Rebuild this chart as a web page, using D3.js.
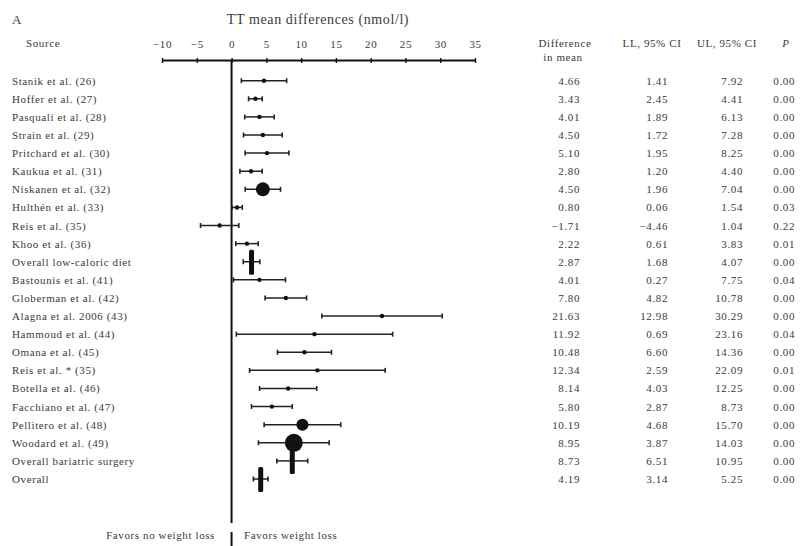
<!DOCTYPE html>
<html>
<head>
<meta charset="utf-8">
<script src="https://cdn.jsdelivr.net/npm/d3@7"></script>
<style>
  html, body { margin: 0; padding: 0; background: #fff; }
  svg text { font-family: "Liberation Serif", "DejaVu Serif", serif; fill: #3a3a3a; letter-spacing: 0.6px; }
</style>
</head>
<body>
<svg id="chart" width="800" height="546"></svg>
<script>
// Study rows of the forest plot (TT mean differences, nmol/l)
const sources = [
  "Stanik et al. (26)", "Hoffer et al. (27)", "Pasquali et al. (28)", "Strain et al. (29)",
  "Pritchard et al. (30)", "Kaukua et al. (31)", "Niskanen et al. (32)", "Hulthén et al. (33)",
  "Reis et al. (35)", "Khoo et al. (36)", "Overall low-caloric diet",
  "Bastounis et al. (41)", "Globerman et al. (42)", "Alagna et al. 2006 (43)", "Hammoud et al. (44)",
  "Omana et al. (45)", "Reis et al. * (35)", "Botella et al. (46)", "Facchiano et al. (47)",
  "Pellitero et al. (48)", "Woodard et al. (49)", "Overall bariatric surgery", "Overall"
];
const meanDiff = [4.66, 3.43, 4.01, 4.50, 5.10, 2.80, 4.50, 0.80, -1.71, 2.22, 2.87,
  4.01, 7.80, 21.63, 11.92, 10.48, 12.34, 8.14, 5.80, 10.19, 8.95, 8.73, 4.19];
const lowerCI = [1.41, 2.45, 1.89, 1.72, 1.95, 1.20, 1.96, 0.06, -4.46, 0.61, 1.68,
  0.27, 4.82, 12.98, 0.69, 6.60, 2.59, 4.03, 2.87, 4.68, 3.87, 6.51, 3.14];
const upperCI = [7.92, 4.41, 6.13, 7.28, 8.25, 4.40, 7.04, 1.54, 1.04, 3.83, 4.07,
  7.75, 10.78, 30.29, 23.16, 14.36, 22.09, 12.25, 8.73, 15.70, 14.03, 10.95, 5.25];
const pValues = ["0.00", "0.00", "0.00", "0.00", "0.00", "0.00", "0.00", "0.03", "0.22", "0.01", "0.00",
  "0.04", "0.00", "0.00", "0.04", "0.00", "0.01", "0.00", "0.00", "0.00", "0.00", "0.00", "0.00"];
// Relative study weight (drives marker area); 0 marks a pooled estimate
const studyWeight = [1, 1, 1, 1, 1, 1, 12, 1, 1, 1, 0,
  1, 1, 1, 1, 1, 1, 1, 1, 9, 20, 0, 0];
const axisTicks = [-10, -5, 0, 5, 10, 15, 20, 25, 30, 35];

const svg = d3.select("#chart");
const x = d3.scaleLinear().domain([-10, 35]).range([162, 475]);
const y = d3.scaleLinear().domain([0, sources.length - 1]).range([80.7, 479]);
const r = d3.scaleSqrt().domain([0, 20]).range([0, 9]);
const fmt = d3.format(".2f");
const fs = 11;

// Panel letter and title
svg.append("text").attr("x", 12).attr("y", 24).attr("font-size", 13).text("A");
svg.append("text").attr("x", 318).attr("y", 24).attr("font-size", 14)
  .attr("text-anchor", "middle").text("TT mean differences (nmol/l)");
svg.append("text").attr("x", 26).attr("y", 47).attr("font-size", fs).text("Source");

// Top axis
const axisY = 60;
const axis = d3.axisTop(x).tickValues(axisTicks).tickSize(0).tickPadding(12);
const gAxis = svg.append("g").attr("transform", `translate(0,${axisY})`).call(axis);
gAxis.select(".domain").attr("stroke", "#111").attr("stroke-width", 2);
gAxis.selectAll(".tick text").attr("font-size", fs)
  .style("font-family", "Liberation Serif, serif").attr("fill", "#3a3a3a");
gAxis.selectAll(".tick").append("line")
  .attr("y1", -2).attr("y2", 3).attr("stroke", "#111").attr("stroke-width", 1.4);

// Line of no effect
svg.append("line").attr("x1", x(0)).attr("x2", x(0)).attr("y1", axisY).attr("y2", 523)
  .attr("stroke", "#111").attr("stroke-width", 2);

// Column headers
const colDiff = 580, colLL = 668, colUL = 743, colP = 795;
svg.append("text").attr("x", 565).attr("y", 47).attr("font-size", fs)
  .attr("text-anchor", "middle").text("Difference");
svg.append("text").attr("x", 563).attr("y", 61).attr("font-size", fs)
  .attr("text-anchor", "middle").text("in mean");
svg.append("text").attr("x", 652).attr("y", 47).attr("font-size", fs)
  .attr("text-anchor", "middle").text("LL, 95% CI");
svg.append("text").attr("x", 727).attr("y", 47).attr("font-size", fs)
  .attr("text-anchor", "middle").text("UL, 95% CI");
svg.append("text").attr("x", 786).attr("y", 47).attr("font-size", fs)
  .attr("font-style", "italic").attr("text-anchor", "middle").text("P");

const rows = svg.append("g").selectAll("g").data(sources).join("g")
  .attr("transform", (d, i) => `translate(0,${y(i)})`);

rows.append("text").attr("x", 12).attr("y", 4).attr("font-size", fs).text(d => d);
rows.append("text").attr("x", colDiff).attr("y", 4).attr("font-size", fs)
  .attr("text-anchor", "end").text((d, i) => fmt(meanDiff[i]));
rows.append("text").attr("x", colLL).attr("y", 4).attr("font-size", fs)
  .attr("text-anchor", "end").text((d, i) => fmt(lowerCI[i]));
rows.append("text").attr("x", colUL).attr("y", 4).attr("font-size", fs)
  .attr("text-anchor", "end").text((d, i) => fmt(upperCI[i]));
rows.append("text").attr("x", colP).attr("y", 4).attr("font-size", fs)
  .attr("text-anchor", "end").text((d, i) => pValues[i]);

// Confidence intervals with end caps
rows.append("line").attr("x1", (d, i) => x(lowerCI[i])).attr("x2", (d, i) => x(upperCI[i]))
  .attr("stroke", "#222").attr("stroke-width", 1.5);
rows.append("line").attr("x1", (d, i) => x(lowerCI[i])).attr("x2", (d, i) => x(lowerCI[i]))
  .attr("y1", -2.5).attr("y2", 2.5).attr("stroke", "#222").attr("stroke-width", 1.6);
rows.append("line").attr("x1", (d, i) => x(upperCI[i])).attr("x2", (d, i) => x(upperCI[i]))
  .attr("y1", -2.5).attr("y2", 2.5).attr("stroke", "#222").attr("stroke-width", 1.6);

// Point estimates: circles sized by weight, bars for pooled estimates
rows.filter((d, i) => studyWeight[i] > 0).append("circle")
  .attr("cx", d => x(meanDiff[sources.indexOf(d)]))
  .attr("r", d => Math.max(2.2, r(studyWeight[sources.indexOf(d)])))
  .attr("fill", "#111");
rows.filter((d, i) => studyWeight[i] === 0).append("rect")
  .attr("x", d => x(meanDiff[sources.indexOf(d)]) - 2.5)
  .attr("y", -12).attr("width", 5).attr("height", 25).attr("rx", 1.5)
  .attr("fill", "#111");

// Direction labels
svg.append("text").attr("x", 215).attr("y", 539).attr("font-size", fs)
  .attr("text-anchor", "end").text("Favors  no weight loss");
svg.append("text").attr("x", 244).attr("y", 539).attr("font-size", fs)
  .text("Favors  weight loss");
svg.append("line").attr("x1", x(0)).attr("x2", x(0)).attr("y1", 532).attr("y2", 546)
  .attr("stroke", "#111").attr("stroke-width", 2);
</script>
</body>
</html>
